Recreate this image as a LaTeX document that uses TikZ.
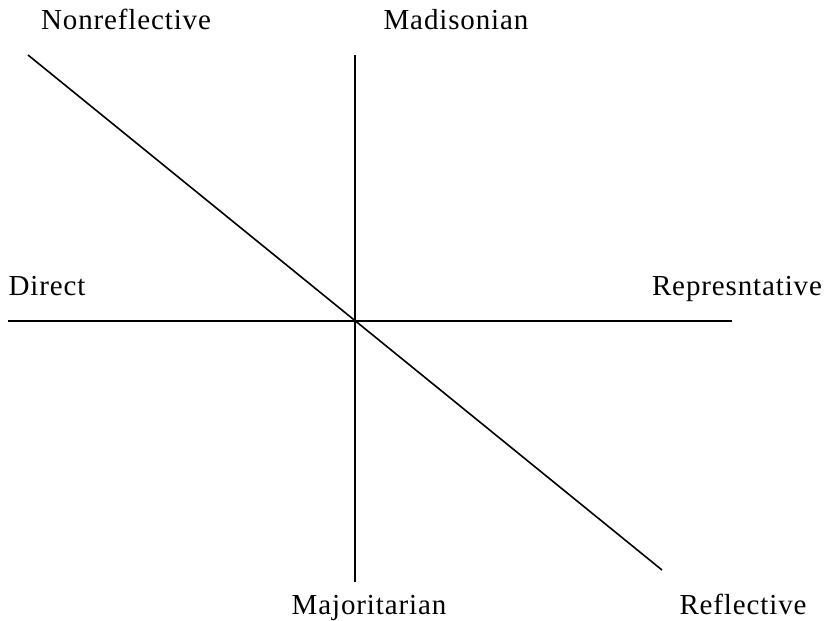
\documentclass[tikz,border=0pt]{standalone}
\usepackage{fontspec}
\setmainfont{Liberation Serif}[LetterSpace=3]
\usetikzlibrary{positioning}

\begin{document}
\begin{tikzpicture}[x=1pt,y=-1pt,line width=1.6pt,
  axlabel/.style={anchor=base,inner sep=0pt,font=\fontsize{29}{34}\selectfont}]
\useasboundingbox (0,0) rectangle (825,621);

% Axis end points
\coordinate (DirL) at (8,321);
\coordinate (RepR) at (732,321);
\coordinate (MadT) at (355,55);
\coordinate (MajB) at (355,582);
\coordinate (NonT) at (28,55);
\coordinate (RefB) at (662,570);

% Direct -- Representative
\draw (DirL)--(RepR);

% Madisonian -- Majoritarian
\draw (MadT)--(MajB);

% Nonreflective -- Reflective
\draw (NonT)--(RefB);

\node[axlabel] (nonrefl) at (126,29) {Nonreflective};
\node[axlabel] (madis) at (456,29) {Madisonian};
\node[axlabel] (direct) at (47,295) {Direct};
\node[axlabel] (repres) at (737,295) {Represntative};
\node[axlabel] (major) at (369,614) {Majoritarian};
\node[axlabel] (refl) at (743,614) {Reflective};

\end{tikzpicture}
\end{document}
